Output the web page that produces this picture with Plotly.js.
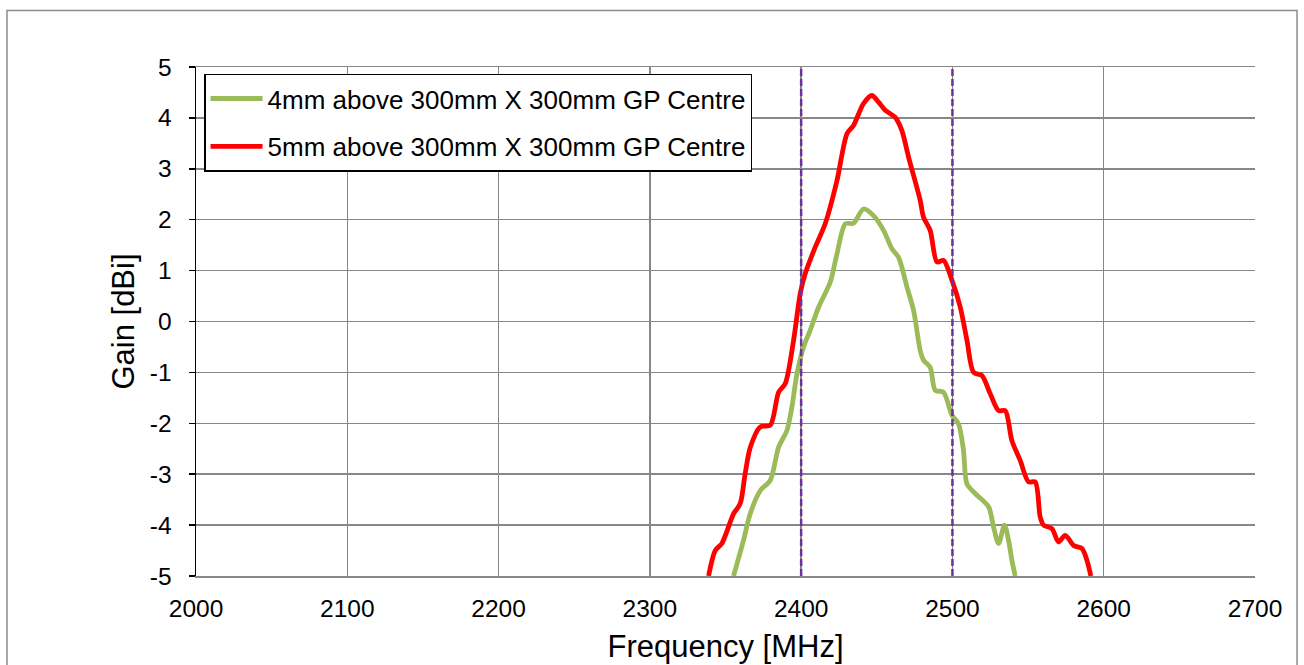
<!DOCTYPE html>
<html>
<head>
<meta charset="utf-8">
<script src="https://cdn.plot.ly/plotly-3.0.1.min.js"></script>
<style>html,body{margin:0;padding:0;background:#fff;}#chart{width:1304px;height:665px;}</style>
</head>
<body>
<div id="chart"></div>
<script>
const seriesNames = ["4mm above 300mm X 300mm GP Centre", "5mm above 300mm X 300mm GP Centre"];

const greenFreq = [2355.3, 2361.9, 2366.4, 2373.0, 2379.6, 2385.1, 2390.6, 2393.9, 2397.2, 2401.6, 2406.0, 2411.5, 2419.2, 2423.7, 2429.2, 2434.6, 2441.2, 2447.8, 2454.5, 2460.0, 2464.4, 2467.7, 2469.9, 2474.3, 2478.7, 2480.9, 2485.3, 2488.6, 2494.1, 2499.7, 2504.0, 2507.3, 2509.6, 2515.1, 2523.9, 2527.2, 2530.5, 2534.4, 2537.1, 2539.3, 2541.5];
const greenGain = [-5.0, -4.30, -3.77, -3.32, -3.12, -2.47, -2.14, -1.68, -1.03, -0.50, -0.17, 0.28, 0.77, 1.33, 1.92, 1.93, 2.21, 2.08, 1.79, 1.43, 1.26, 0.94, 0.68, 0.22, -0.57, -0.76, -0.90, -1.35, -1.39, -1.84, -2.01, -2.53, -3.19, -3.38, -3.64, -4.04, -4.36, -4.00, -4.30, -4.69, -5.0];

const redFreq = [2338.8, 2343.2, 2347.6, 2355.3, 2359.7, 2363.0, 2366.4, 2373.0, 2379.6, 2385.1, 2389.5, 2395.0, 2399.4, 2402.7, 2409.3, 2415.9, 2423.7, 2430.3, 2434.6, 2441.2, 2446.8, 2451.2, 2455.6, 2462.2, 2466.6, 2471.0, 2478.7, 2480.9, 2485.3, 2489.8, 2494.1, 2499.7, 2505.2, 2509.6, 2514.0, 2519.5, 2525.0, 2530.5, 2534.9, 2539.3, 2544.8, 2550.3, 2554.7, 2558.0, 2560.2, 2565.8, 2570.1, 2574.6, 2580.1, 2585.6, 2588.9, 2591.5];
const redGain = [-5.0, -4.50, -4.36, -3.78, -3.58, -2.99, -2.47, -2.07, -2.04, -1.39, -1.22, -0.37, 0.55, 0.94, 1.46, 1.92, 2.77, 3.69, 3.85, 4.28, 4.44, 4.31, 4.15, 4.01, 3.75, 3.23, 2.38, 2.05, 1.79, 1.17, 1.20, 0.81, 0.28, -0.37, -1.0, -1.06, -1.42, -1.75, -1.75, -2.34, -2.73, -3.15, -3.15, -3.84, -4.00, -4.07, -4.33, -4.20, -4.40, -4.46, -4.69, -5.0];

const bandEdges = [2400, 2500];

const xTickVals = [2000, 2100, 2200, 2300, 2400, 2500, 2600, 2700];
const yTickVals = [5, 4, 3, 2, 1, 0, -1, -2, -3, -4, -5];
const yTickText = ["5", "4", "3", "2", "1", "0", "-1", "-2", "-3", "-4", "-5"];

const traces = [
  {x: greenFreq, y: greenGain, name: seriesNames[0], type: 'scatter', mode: 'lines',
   line: {color: '#9BBB59', width: 4.8, shape: 'spline', smoothing: 0.8}, legendgroup: 'a'},
  {x: redFreq, y: redGain, name: seriesNames[1], type: 'scatter', mode: 'lines',
   line: {color: '#FF0000', width: 4.8, shape: 'spline', smoothing: 0.8}, legendgroup: 'b'}
];

const shapes = bandEdges.map(f => ({
  type: 'line', xref: 'x', yref: 'paper', x0: f, x1: f, y0: 0, y1: 1,
  line: {color: '#7030A0', width: 2.5, dash: '7px,3px'}, layer: 'above'
}));
shapes.push({
  type: 'rect', xref: 'paper', yref: 'paper', x0: -0.1785, x1: 1.0397, y0: -0.19, y1: 1.111,
  line: {color: '#8c8c8c', width: 1.5}, fillcolor: 'rgba(0,0,0,0)', layer: 'below'
});

const layout = {
  width: 1304, height: 665,
  margin: {l: 196, r: 49, t: 66.5, b: 89, pad: 0},
  paper_bgcolor: '#ffffff', plot_bgcolor: '#ffffff',
  font: {family: 'Liberation Sans, Arial, sans-serif', size: 24, color: '#000000'},
  showlegend: true,
  legend: {
    x: 0.0076, y: 0.987, xanchor: 'left', yanchor: 'top',
    bgcolor: '#ffffff', bordercolor: '#000000', borderwidth: 1.5,
    font: {size: 26, color: '#000000'}, traceorder: 'grouped', tracegroupgap: 11,
    itemwidth: 52
  },
  xaxis: {
    range: [2000, 2700], tickmode: 'array', tickvals: xTickVals,
    showgrid: true, gridcolor: '#878787', gridwidth: 1.5,
    showline: true, linecolor: '#878787', linewidth: 1.5, mirror: true,
    ticks: '', ticklabelstandoff: 10, zeroline: false,
    tickfont: {size: 24.5},
    title: {text: 'Frequency [MHz]', font: {size: 31}, standoff: 14}
  },
  yaxis: {
    range: [-5, 5], tickmode: 'array', tickvals: yTickVals, ticktext: yTickText,
    showgrid: true, gridcolor: '#878787', gridwidth: 1.5, zeroline: false,
    showline: true, linecolor: '#000000', linewidth: 1.5,
    ticks: 'outside', ticklen: 6, tickcolor: '#000000', tickwidth: 1.5,
    ticklabelstandoff: 12,
    tickfont: {size: 24.5},
    title: {text: 'Gain [dBi]', font: {size: 31}, standoff: 6}
  },
  shapes: shapes
};

Plotly.newPlot('chart', traces, layout, {displayModeBar: false, staticPlot: true});
</script>
</body>
</html>
